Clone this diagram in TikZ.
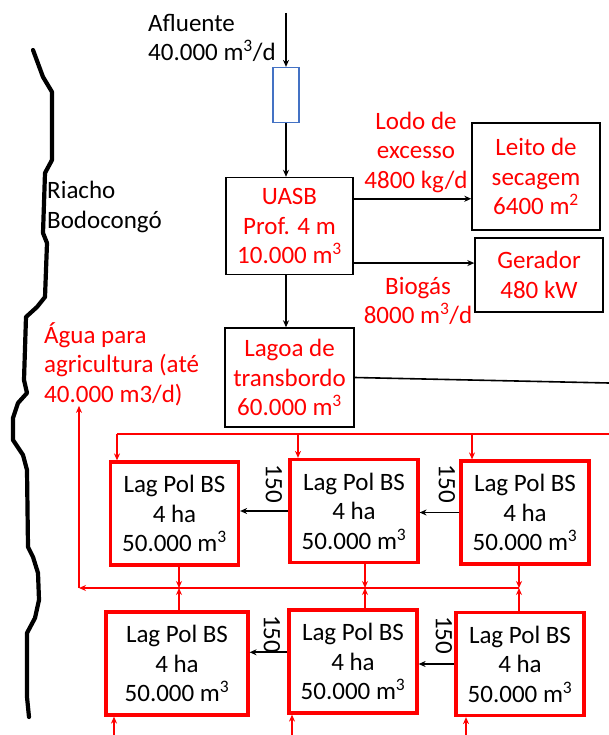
\documentclass[tikz,border=0pt]{standalone}
\usepackage{fontspec}
\setmainfont{Carlito}
\usetikzlibrary{arrows.meta,calc}
\definecolor{gradeblue}{RGB}{68,114,196}

\begin{document}
\begin{tikzpicture}[x=1pt,y=-1pt,
  every node/.style={font=\fontsize{25}{29.5}\selectfont,inner sep=0pt},
  box/.style={draw,line width=1.4pt,align=center,text=red},
  lag/.style={draw=red,line width=3.2pt,align=center,minimum width=128pt,minimum height=103pt},
  lbl/.style={align=center,text=red},
  num/.style={rotate=-90},
  arr/.style={->,>={Stealth[length=7pt,width=6pt]},line width=1.6pt},
  rarr/.style={arr,draw=red,line width=1.8pt},
  rline/.style={draw=red,line width=1.8pt}
]
  \useasboundingbox (0,0) rectangle (609,735);

  % riacho
  \draw[line width=4.2pt,line join=round,line cap=round]
    (33,50) -- (43,77) -- (52,92) -- (52,160) -- (45,173) -- (43,233) -- (47,243)
    -- (45,297) -- (37,307) -- (26,317) -- (24,380) -- (27,393) -- (18,403)
    -- (13,418) -- (13,440) -- (23,455) -- (27,470) -- (28,547) -- (33,557)
    -- (38,573) -- (39,600) -- (35,618) -- (27,633) -- (27,697) -- (29,717);
  \node[align=left,anchor=west] (riacho) at (47,207) {Riacho\\Bodocongó};

  % entrada e UASB
  \node[align=left,anchor=west] (afl) at (148,38) {Afluente\\40.000 m\textsuperscript{3}/d};
  \coordinate (src) at (286,13);
  \node[draw=gradeblue,line width=1.2pt,minimum width=26pt,minimum height=55pt] (grade) at (286,95) {};
  \node[box,minimum width=127pt,minimum height=97pt] (uasb) at (289.5,226) {UASB\\Prof. 4 m\\10.000 m\textsuperscript{3}};
  \node[box,minimum width=128pt,minimum height=107pt] (leito) at (536,176.5) {Leito de\\secagem\\6400 m\textsuperscript{2}};
  \node[box,minimum width=128pt,minimum height=74pt] (ger) at (539,275) {Gerador\\480 kW};
  \node[box,minimum width=129pt,minimum height=99pt] (lagoa) at (289.5,377.5) {Lagoa de\\transbordo\\60.000 m\textsuperscript{3}};
  \node[lbl] (lodo) at (416,152) {Lodo de\\excesso\\4800 kg/d};
  \node[lbl] (biog) at (418,301) {Biogás\\8000 m\textsuperscript{3}/d};
  \node[lbl,align=left,anchor=west] (agua) at (44,364) {Água para\\agricultura (até\\40.000 m3/d)};

  \draw[arr] (src) -- (grade.north);
  \draw[arr] (grade.south) -- (grade.south |- uasb.north);
  \draw[arr] (uasb.23) -- (uasb.23 -| leito.west);
  \draw[arr] (uasb.-30) -- (uasb.-30 -| ger.west);
  \draw[arr] (grade.south |- uasb.south) -- (grade.south |- lagoa.north);
  \coordinate (out) at (609,383);
  \draw[line width=1.6pt] (lagoa.east) -- (out);

  % lagoas de polimento
  \node[lag] (p1) at (174.5,513.5) {Lag Pol BS\\4 ha\\50.000 m\textsuperscript{3}};
  \node[lag] (p2) at (354,511) {Lag Pol BS\\4 ha\\50.000 m\textsuperscript{3}};
  \node[lag] (p3) at (525,512.5) {Lag Pol BS\\4 ha\\50.000 m\textsuperscript{3}};
  \node[lag,minimum width=142pt] (q1) at (177,663.5) {Lag Pol BS\\4 ha\\50.000 m\textsuperscript{3}};
  \node[lag] (q2) at (353,661.5) {Lag Pol BS\\4 ha\\50.000 m\textsuperscript{3}};
  \node[lag] (q3) at (520,664) {Lag Pol BS\\4 ha\\50.000 m\textsuperscript{3}};
  \node[num] (n1) at (274,484) {150};
  \node[num] (n2) at (447,484) {150};
  \node[num] (n3) at (272,634) {150};
  \node[num] (n4) at (444,635) {150};

  \draw[arr] (p3.west) -- (p3.west -| p2.east);
  \draw[arr] (p2.west) -- (p2.west -| p1.east);
  \draw[arr] (q3.west) -- (q3.west -| q2.east);
  \draw[arr] (q2.172) -- (q2.172 -| q1.east);

  % alimentacao
  \coordinate (f0) at (609,434);
  \coordinate (f1) at (117,434);
  \coordinate (f2) at (298,434);
  \coordinate (f3) at (472,434);
  \draw[rline] (f0) -- (f1);
  \draw[rarr] (f1) -- (f1 |- p1.north);
  \draw[rarr] (f2) -- (f2 |- p2.north);
  \draw[rarr] (f3) -- (f3 |- p3.north);
  \coordinate (g1) at (114,735);
  \coordinate (g2) at (292,735);
  \coordinate (g3) at (466,735);
  \draw[rarr] (g1) -- (g1 |- q1.south);
  \draw[rarr] (g2) -- (g2 |- q2.south);
  \draw[rarr] (g3) -- (g3 |- q3.south);

  % coleta
  \coordinate (junc) at (79,588);
  \coordinate (c1) at (179,588);
  \coordinate (c2) at (365,588);
  \coordinate (c3) at (519,588);
  \draw[rarr] (c1 |- p1.south) -- (c1);
  \draw[rarr] (c2 |- p2.south) -- (c2);
  \draw[rarr] (c3 |- p3.south) -- (c3);
  \draw[rarr] (c1 |- q1.north) -- (c1);
  \draw[rarr] (c2 |- q2.north) -- (c2);
  \draw[rarr] (c3 |- q3.north) -- (c3);
  \draw[rarr] (c3) -- (junc);
  \draw[rarr] (junc) -- (junc |- agua.south);
\end{tikzpicture}
\end{document}
